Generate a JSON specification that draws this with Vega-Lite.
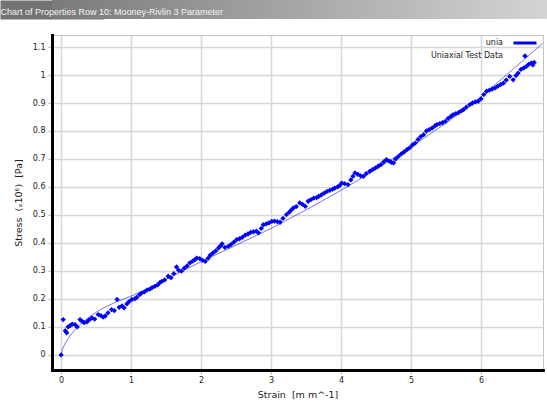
{
  "$schema": "https://vega.github.io/schema/vega-lite/v6.json",
  "padding": 0,
  "spacing": 12,
  "background": "white",
  "config": {"font": "DejaVu Sans"},
  "datasets": {
    "fit": [
      {"x":0,"y":0},{"x":0.02,"y":0.02},{"x":0.05,"y":0.038},{"x":0.1,"y":0.058},{"x":0.15,"y":0.075},{"x":0.2,"y":0.09},{"x":0.3,"y":0.115},{"x":0.4,"y":0.135},{"x":0.5,"y":0.152},{"x":0.6,"y":0.167},{"x":0.75,"y":0.185},{"x":1.0,"y":0.21},{"x":1.25,"y":0.238},{"x":1.5,"y":0.27},{"x":1.75,"y":0.302},{"x":2.0,"y":0.333},{"x":2.5,"y":0.392},{"x":3.0,"y":0.452},{"x":3.5,"y":0.518},{"x":4.0,"y":0.588},{"x":4.5,"y":0.663},{"x":5.0,"y":0.743},{"x":5.5,"y":0.828},{"x":6.0,"y":0.922},{"x":6.5,"y":1.03},{"x":6.88,"y":1.113}
    ],
    "test": [
      {"x":0,"y":0},{"x":0.03,"y":0.126},{"x":0.06,"y":0.086},{"x":0.08,"y":0.079},{"x":0.1,"y":0.1},{"x":0.13,"y":0.105},{"x":0.16,"y":0.11},{"x":0.2,"y":0.108},{"x":0.23,"y":0.1},{"x":0.27,"y":0.126},{"x":0.3,"y":0.12},{"x":0.33,"y":0.115},{"x":0.37,"y":0.118},{"x":0.4,"y":0.125},{"x":0.44,"y":0.132},{"x":0.48,"y":0.128},{"x":0.53,"y":0.144},{"x":0.57,"y":0.14},{"x":0.6,"y":0.135},{"x":0.63,"y":0.139},{"x":0.67,"y":0.15},{"x":0.72,"y":0.162},{"x":0.76,"y":0.158},{"x":0.8,"y":0.198},{"x":0.83,"y":0.17},{"x":0.87,"y":0.175},{"x":0.9,"y":0.168},{"x":0.94,"y":0.182},{"x":0.97,"y":0.19},{"x":1.01,"y":0.198},{"x":1.05,"y":0.2},{"x":1.08,"y":0.205},{"x":1.12,"y":0.215},{"x":1.15,"y":0.221},{"x":1.19,"y":0.225},{"x":1.23,"y":0.232},{"x":1.27,"y":0.235},{"x":1.3,"y":0.24},{"x":1.34,"y":0.245},{"x":1.38,"y":0.25},{"x":1.41,"y":0.258},{"x":1.44,"y":0.263},{"x":1.48,"y":0.268},{"x":1.53,"y":0.281},{"x":1.57,"y":0.276},{"x":1.61,"y":0.29},{"x":1.65,"y":0.314},{"x":1.68,"y":0.302},{"x":1.72,"y":0.299},{"x":1.76,"y":0.31},{"x":1.8,"y":0.318},{"x":1.84,"y":0.329},{"x":1.88,"y":0.335},{"x":1.91,"y":0.34},{"x":1.94,"y":0.346},{"x":1.98,"y":0.344},{"x":2.02,"y":0.338},{"x":2.06,"y":0.334},{"x":2.1,"y":0.345},{"x":2.13,"y":0.356},{"x":2.17,"y":0.364},{"x":2.21,"y":0.372},{"x":2.25,"y":0.382},{"x":2.28,"y":0.39},{"x":2.3,"y":0.397},{"x":2.34,"y":0.384},{"x":2.39,"y":0.388},{"x":2.43,"y":0.395},{"x":2.47,"y":0.403},{"x":2.51,"y":0.412},{"x":2.55,"y":0.415},{"x":2.59,"y":0.42},{"x":2.63,"y":0.428},{"x":2.67,"y":0.432},{"x":2.71,"y":0.438},{"x":2.75,"y":0.44},{"x":2.79,"y":0.442},{"x":2.82,"y":0.436},{"x":2.86,"y":0.452},{"x":2.89,"y":0.465},{"x":2.93,"y":0.468},{"x":2.97,"y":0.472},{"x":3.01,"y":0.477},{"x":3.05,"y":0.478},{"x":3.09,"y":0.476},{"x":3.13,"y":0.474},{"x":3.17,"y":0.488},{"x":3.22,"y":0.501},{"x":3.26,"y":0.51},{"x":3.29,"y":0.518},{"x":3.32,"y":0.525},{"x":3.36,"y":0.53},{"x":3.41,"y":0.543},{"x":3.45,"y":0.538},{"x":3.49,"y":0.531},{"x":3.53,"y":0.549},{"x":3.57,"y":0.555},{"x":3.61,"y":0.56},{"x":3.65,"y":0.562},{"x":3.68,"y":0.566},{"x":3.72,"y":0.572},{"x":3.76,"y":0.578},{"x":3.8,"y":0.584},{"x":3.84,"y":0.588},{"x":3.88,"y":0.592},{"x":3.91,"y":0.596},{"x":3.95,"y":0.6},{"x":3.98,"y":0.605},{"x":4.01,"y":0.614},{"x":4.05,"y":0.612},{"x":4.1,"y":0.608},{"x":4.14,"y":0.625},{"x":4.17,"y":0.638},{"x":4.2,"y":0.65},{"x":4.24,"y":0.645},{"x":4.28,"y":0.64},{"x":4.32,"y":0.638},{"x":4.36,"y":0.648},{"x":4.41,"y":0.656},{"x":4.45,"y":0.662},{"x":4.49,"y":0.668},{"x":4.53,"y":0.674},{"x":4.57,"y":0.68},{"x":4.61,"y":0.69},{"x":4.65,"y":0.698},{"x":4.69,"y":0.692},{"x":4.72,"y":0.688},{"x":4.75,"y":0.686},{"x":4.78,"y":0.7},{"x":4.82,"y":0.709},{"x":4.86,"y":0.718},{"x":4.9,"y":0.725},{"x":4.94,"y":0.733},{"x":4.98,"y":0.74},{"x":5.02,"y":0.75},{"x":5.06,"y":0.757},{"x":5.1,"y":0.77},{"x":5.14,"y":0.78},{"x":5.18,"y":0.787},{"x":5.22,"y":0.8},{"x":5.26,"y":0.805},{"x":5.3,"y":0.81},{"x":5.34,"y":0.818},{"x":5.37,"y":0.823},{"x":5.41,"y":0.826},{"x":5.45,"y":0.83},{"x":5.49,"y":0.834},{"x":5.53,"y":0.845},{"x":5.57,"y":0.852},{"x":5.6,"y":0.858},{"x":5.64,"y":0.862},{"x":5.68,"y":0.866},{"x":5.72,"y":0.872},{"x":5.75,"y":0.876},{"x":5.79,"y":0.885},{"x":5.84,"y":0.894},{"x":5.88,"y":0.9},{"x":5.92,"y":0.904},{"x":5.96,"y":0.906},{"x":6.0,"y":0.915},{"x":6.04,"y":0.93},{"x":6.08,"y":0.942},{"x":6.12,"y":0.946},{"x":6.16,"y":0.95},{"x":6.2,"y":0.954},{"x":6.24,"y":0.96},{"x":6.28,"y":0.966},{"x":6.32,"y":0.971},{"x":6.36,"y":0.982},{"x":6.41,"y":0.995},{"x":6.46,"y":0.983},{"x":6.5,"y":0.998},{"x":6.53,"y":1.007},{"x":6.57,"y":1.02},{"x":6.61,"y":1.025},{"x":6.65,"y":1.031},{"x":6.68,"y":1.038},{"x":6.72,"y":1.043},{"x":6.74,"y":1.036},{"x":6.76,"y":1.045}
    ],
    "bar": [{"t": 0}]
  },
  "vconcat": [
    {
      "width": 495,
      "height": 19,
      "view": {"stroke": null},
      "data": {"name": "bar"},
      "layer": [
        {
          "mark": {
            "type": "rect",
            "color": {"gradient": "linear", "x1": 0, "y1": 0, "x2": 1, "y2": 0, "stops": [{"offset": 0, "color": "#7a7a7a"}, {"offset": 1, "color": "#d4d4d4"}]}
          }
        },
        {
          "mark": {"type": "point", "opacity": 0},
          "encoding": {
            "x": {
              "field": "t",
              "type": "quantitative",
              "scale": {"domain": [0, 1]},
              "axis": {
                "orient": "bottom",
                "zindex": 1,
                "domain": false, "ticks": false, "labels": false, "grid": false,
                "title": "\u00a0\u00a0\u2009Chart of Properties Row 10: Mooney-Rivlin 3 Parameter",
                "titleAnchor": "start",
                "titleAlign": "left",
                "titleBaseline": "alphabetic",
                "titleX": -52,
                "titleY": -5,
                "titleFont": "Liberation Sans",
                "titleFontSize": 9,
                "titleFontWeight": "normal",
                "titleColor": "#f4f4f4"
              }
            },
            "y": {
              "field": "t",
              "type": "quantitative",
              "scale": {"domain": [0, 1]},
              "axis": {
                "zindex": 0,
                "domainColor": "#737373", "domainWidth": 104, "domainCap": "butt",
                "labels": false, "ticks": false, "grid": false, "title": null
              }
            }
          }
        }
      ]
    },
    {
      "width": 491,
      "height": 335,
      "view": {"stroke": "#c4c4c4", "strokeWidth": 1, "fill": "white"},
      "encoding": {
        "x": {
          "field": "x",
          "type": "quantitative",
          "scale": {"domain": [-0.13, 6.886], "nice": false, "zero": false},
          "axis": {
            "values": [0, 1, 2, 3, 4, 5, 6],
            "format": "d",
            "title": "Strain\u00a0\u00a0[m m^-1]",
            "domainColor": "black", "domainWidth": 3, "domainCap": "square",
            "tickColor": "#b8b8b8", "tickSize": 4,
            "gridColor": "#d6d6d6", "gridWidth": 1.5,
            "labelFontSize": 8, "labelColor": "#222222", "labelPadding": 2,
            "titleFontSize": 9.5, "titleFontWeight": "normal", "titleColor": "#222222", "titlePadding": 5
          }
        },
        "y": {
          "field": "y",
          "type": "quantitative",
          "scale": {"domain": [-0.054, 1.143], "nice": false, "zero": false},
          "axis": {
            "values": [0, 0.1, 0.2, 0.3, 0.4, 0.5, 0.6, 0.7, 0.8, 0.9, 1, 1.1],
            "format": "~g",
            "title": "Stress\u00a0\u00a0(ₓ10⁶)\u00a0\u00a0[Pa]",
            "domainColor": "black", "domainWidth": 3, "domainCap": "square",
            "tickColor": "#b8b8b8", "tickSize": 4,
            "gridColor": "#d6d6d6", "gridWidth": 1.5,
            "labelFontSize": 8, "labelColor": "#222222", "labelPadding": 3,
            "titleFontSize": 9.5, "titleFontWeight": "normal", "titleColor": "#222222", "titlePadding": 9
          }
        }
      },
      "layer": [
        {
          "data": {"name": "fit"},
          "mark": {"type": "line", "strokeWidth": 1, "color": "#0000ff", "opacity": 0.55, "clip": true},
          "encoding": {"color": {"datum": "unia"}}
        },
        {
          "data": {"name": "test"},
          "mark": {"type": "point", "shape": "diamond", "filled": true, "size": 28, "opacity": 1},
          "encoding": {
            "color": {
              "datum": "Uniaxial Test Data",
              "scale": {"domain": ["unia", "Uniaxial Test Data"], "range": ["#0000ff", "#0000ff"]},
              "legend": {
                "title": null,
                "orient": "none",
                "legendX": 469,
                "legendY": 39,
                "padding": 0,
                "labelFontSize": 8,
                "labelColor": "#222222",
                "labelAlign": "right",
                "labelOffset": -26,
                "symbolSize": 144,
                "rowPadding": 3,
                "symbolOpacity": 1,
                "encode": {
                  "symbols": {
                    "update": {
                      "shape": {"signal": "datum.value === 'unia' ? 'stroke' : 'diamond'"},
                      "size": {"signal": "datum.value === 'unia' ? 529 : 30"},
                      "strokeWidth": {"signal": "datum.value === 'unia' ? 3 : 0"},
                      "stroke": {"value": "#0000ff"},
                      "fill": {"value": "#0000ff"},
                      "opacity": {"value": 1}
                    }
                  }
                }
              }
            }
          }
        }
      ]
    }
  ]
}
